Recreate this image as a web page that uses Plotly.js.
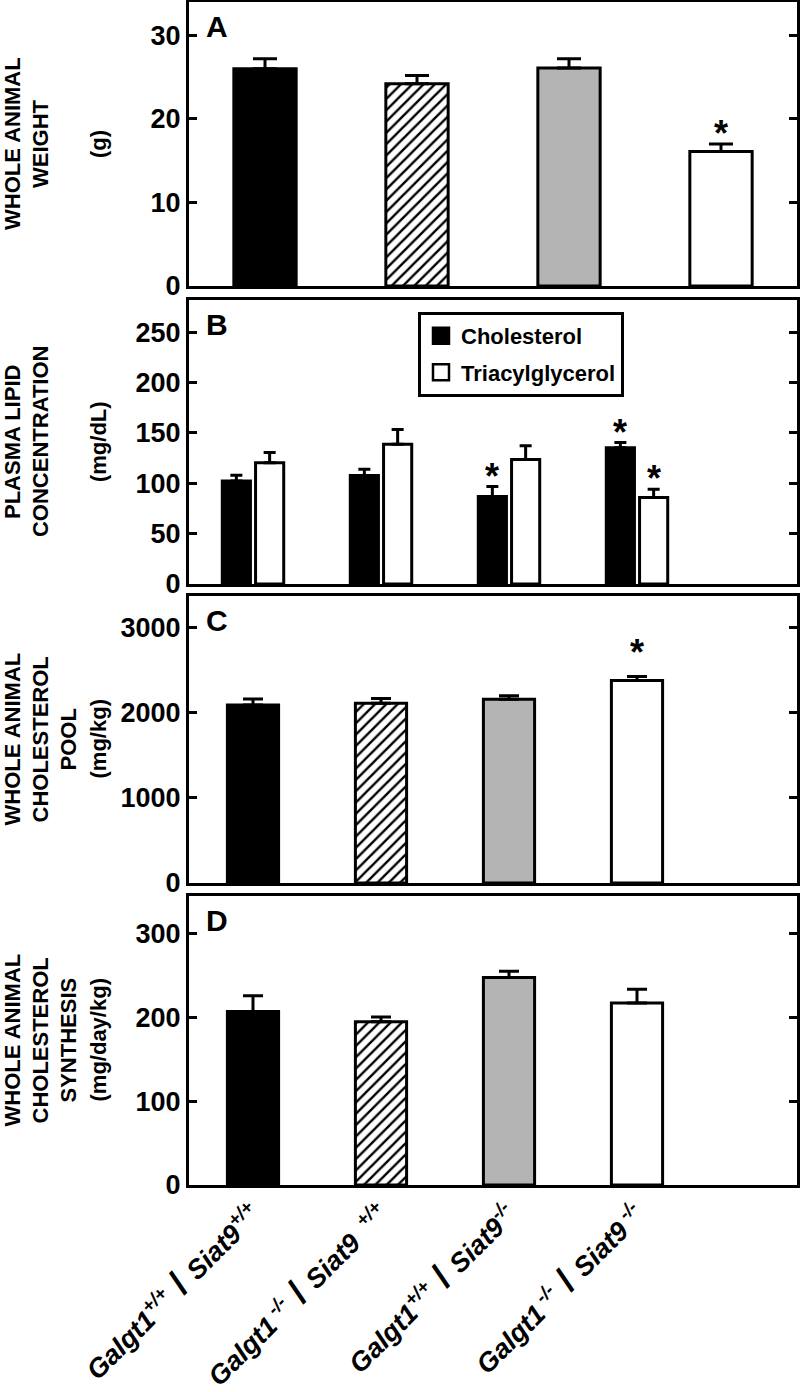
<!DOCTYPE html>
<html><head><meta charset="utf-8">
<script src="https://cdn.plot.ly/plotly-3.0.1.min.js"></script>
<style>body{margin:0;background:#fff}#chart{width:800px;height:1392px}</style>
</head><body><div id="chart"></div>
<script>
// ---- data ----
const categories = ['Galgt1+/+/Siat9+/+', 'Galgt1-/-/Siat9+/+', 'Galgt1+/+/Siat9-/-', 'Galgt1-/-/Siat9-/-'];
const SL = '<span style="font-style:normal;font-size:36px"> / </span>';
const tickLabels = [
  'Galgt1<sup>+/+</sup>' + SL + 'Siat9<sup>+/+</sup>',
  'Galgt1<sup> -/-</sup>' + SL + 'Siat9 <sup> +/+</sup>',
  'Galgt1<sup>+/+</sup>' + SL + 'Siat9<sup>-/-</sup>',
  'Galgt1<sup> -/-</sup>' + SL + 'Siat9<sup> -/-</sup>'
];
const weight = [26.0, 24.2, 26.1, 16.1];
const weightErr = [1.2, 1.0, 1.1, 0.9];
const weightSig = [false, false, false, true];

const cholesterol = [102.4, 107.7, 86.8, 135.2];
const cholesterolErr = [5.6, 6.3, 10.0, 5.3];
const cholesterolSig = [false, false, true, true];
const triacylglycerol = [120.3, 138.9, 123.6, 85.8];
const triacylglycerolErr = [10.2, 14.5, 13.6, 8.3];
const triacylglycerolSig = [false, false, false, true];

const cholPool = [2094, 2114, 2161, 2380];
const cholPoolErr = [70, 55, 40, 47];
const cholPoolSig = [false, false, false, true];

const cholSynth = [207, 195, 247.7, 217.4];
const cholSynthErr = [19, 5.5, 7.6, 16.4];
const cholSynthSig = [false, false, false, false];

// ---- styles ----
const FONT = 'Liberation Sans, Arial, Helvetica, sans-serif';
// hatched bar: colour is the hatch line colour (pattern 'replace' mode, transparent background)
const fills = ['#000000', '#000000', '#b4b4b4', '#ffffff'];
const patterns = ['', '/', '', ''];
const idx = categories.map((_, i) => i);

function groupBars(vals, errs, xa, ya, width, capw) {
  return {
    type: 'bar', x: idx, y: vals, xaxis: xa, yaxis: ya, width: width,
    marker: {color: fills, pattern: {shape: patterns, size: 8, solidity: 0.3},
             line: {color: '#000', width: 3}},
    error_y: {type: 'data', symmetric: false, array: errs, arrayminus: errs.map(() => 0),
              color: '#000', thickness: 3, width: capw},
    showlegend: false, hoverinfo: 'skip'
  };
}
const bOff1 = -0.24, bOff2 = 0.02, bW = 0.22;
function lipidBars(vals, errs, color, off) {
  return {
    type: 'bar', x: idx, y: vals, xaxis: 'x2', yaxis: 'y2', width: bW, offset: off,
    marker: {color: color, line: {color: '#000', width: 3}},
    error_y: {type: 'data', symmetric: false, array: errs, arrayminus: errs.map(() => 0),
              color: '#000', thickness: 3, width: 6},
    showlegend: false, hoverinfo: 'skip'
  };
}
function legendEntry(name, color, grp) {
  return {type: 'scatter', mode: 'markers', name: name, x: [null], y: [null], xaxis: 'x2', yaxis: 'y2',
    legendgroup: grp, marker: {symbol: 'square', size: 16, color: color, line: {color: '#000', width: 2.5}},
    hoverinfo: 'skip'};
}

const data = [
  groupBars(weight, weightErr, 'x', 'y', 0.41, 12),
  lipidBars(cholesterol, cholesterolErr, '#000000', bOff1),
  lipidBars(triacylglycerol, triacylglycerolErr, '#ffffff', bOff2),
  groupBars(cholPool, cholPoolErr, 'x3', 'y3', 0.40, 10),
  groupBars(cholSynth, cholSynthErr, 'x4', 'y4', 0.40, 10),
  legendEntry('Cholesterol', '#000000', 'a'),
  legendEntry('Triacylglycerol', '#ffffff', 'b')
];

const annotations = [];
function sig(flags, vals, errs, xa, ya, xoff, shift) {
  flags.forEach((f, i) => {
    if (!f) return;
    annotations.push({xref: xa, yref: ya, x: i + xoff, y: vals[i] + errs[i], text: '*',
      showarrow: false, xanchor: 'center', yanchor: 'bottom', yshift: shift,
      font: {family: FONT, size: 36, color: '#000', weight: 'bold'}});
  });
}
sig(weightSig, weight, weightErr, 'x', 'y', 0, -12);
sig(cholesterolSig, cholesterol, cholesterolErr, 'x2', 'y2', bOff1 + bW / 2, -12);
sig(triacylglycerolSig, triacylglycerol, triacylglycerolErr, 'x2', 'y2', bOff2 + bW / 2, -12);
sig(cholPoolSig, cholPool, cholPoolErr, 'x3', 'y3', 0, 2);
sig(cholSynthSig, cholSynth, cholSynthErr, 'x4', 'y4', 0, -12);

const panelLetters = ['A', 'B', 'C', 'D'];
const axSuffix = ['', '2', '3', '4'];
panelLetters.forEach((L, k) => {
  annotations.push({xref: 'x' + axSuffix[k] + ' domain', yref: 'y' + axSuffix[k] + ' domain',
    x: 0.024, y: 0.98, xanchor: 'left', yanchor: 'top', text: L, showarrow: false,
    font: {family: FONT, size: 30, color: '#000', weight: 'bold'}});
});

const yTitles = [
  ['WHOLE ANIMAL', 'WEIGHT', '', '(g)'],
  ['PLASMA LIPID', 'CONCENTRATION', '', '(mg/dL)'],
  ['WHOLE ANIMAL', 'CHOLESTEROL', 'POOL', '(mg/kg)'],
  ['WHOLE ANIMAL', 'CHOLESTEROL', 'SYNTHESIS', '(mg/day/kg)']
];
const colPx = [12, 40, 68, 98];
const L0 = 189, PW = 608;
yTitles.forEach((lines, k) => {
  lines.forEach((t, c) => {
    if (!t) return;
    annotations.push({xref: 'paper', yref: 'y' + axSuffix[k] + ' domain',
      x: (colPx[c] - L0) / PW, y: 0.5, xanchor: 'center', yanchor: 'middle', textangle: -90,
      text: t, showarrow: false, font: {family: FONT, size: 22, color: '#000', weight: 'bold'}});
  });
});

function yax(domain, range, dtick) {
  return {domain: domain, range: range, dtick: dtick, tick0: 0, showline: true, linewidth: 3, linecolor: '#000',
    mirror: 'ticks', ticks: 'inside', ticklen: 8, tickwidth: 3, tickcolor: '#000', showgrid: false,
    zeroline: false, fixedrange: true,
    tickfont: {family: FONT, size: 27, color: '#000', weight: 'bold'}};
}
function xax(range, anchor, labels) {
  return {range: range, anchor: anchor, showline: true, linewidth: 3, linecolor: '#000', mirror: true,
    ticks: '', showgrid: false, zeroline: false, tickvals: idx, ticktext: tickLabels,
    showticklabels: labels, tickangle: -45, fixedrange: true,
    tickfont: {family: FONT, size: 27, color: '#000', weight: 'bold', style: 'italic'}};
}

const layout = {
  width: 800, height: 1392,
  margin: {l: 189, r: 3, t: 2, b: 207},
  paper_bgcolor: '#fff', plot_bgcolor: '#fff',
  barmode: 'overlay',
  xaxis: xax([-0.5, 3.5], 'y', false),
  xaxis2: xax([-0.5, 4.25], 'y2', false),
  xaxis3: xax([-0.5, 4.25], 'y3', false),
  xaxis4: xax([-0.5, 4.25], 'y4', true),
  yaxis: Object.assign(yax([0.7599, 1.0], [0, 34], 10), {anchor: 'x'}),
  yaxis2: Object.assign(yax([0.5080, 0.7481], [0, 282], 50), {anchor: 'x2'}),
  yaxis3: Object.assign(yax([0.2553, 0.4979], [0, 3375], 1000), {anchor: 'x3'}),
  yaxis4: Object.assign(yax([0.0, 0.2443], [0, 345], 100), {anchor: 'x4'}),
  showlegend: true,
  legend: {x: (418 - L0) / PW, y: 0.738, xanchor: 'left', yanchor: 'top', bordercolor: '#000', borderwidth: 3,
    bgcolor: '#fff', traceorder: 'grouped', tracegroupgap: 5, itemsizing: 'trace',
    font: {family: FONT, size: 22, color: '#000', weight: 'bold'}},
  annotations: annotations
};

Plotly.newPlot('chart', data, layout, {staticPlot: true, displayModeBar: false});
</script>
</body></html>
